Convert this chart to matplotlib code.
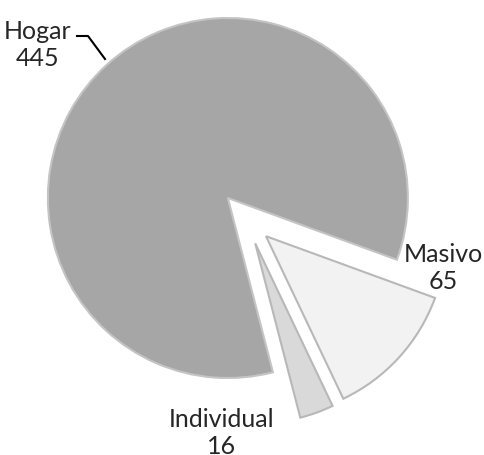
import matplotlib
matplotlib.use('Agg')
import matplotlib.pyplot as plt


etiquetas = ['Hogar', 'Masivo', 'Individual']
valores = [445, 65, 16]
colores = ['#a6a6a6', '#f2f2f2', '#d9d9d9']
bordes = ['#c4c4c4', '#b8b8b8', '#b8b8b8']

W, H = 485, 456
CX, CY, R = 246, 219, 180  # centro y radio en pixeles


def px2fig(px, py):
    return px / W, 1 - py / H


plt.rcParams['font.family'] = ['Lato', 'DejaVu Sans']

fig = plt.figure(figsize=(W / 100, H / 100), dpi=100)
ax = fig.add_axes([0, 0, 1, 1])

wedges, _ = ax.pie(valores, colors=colores, startangle=284.5, counterclock=False,
                   explode=[0.15, 0.15, 0.15], radius=1, normalize=True,
                   wedgeprops=dict(linewidth=1.5))
for w, b in zip(wedges, bordes):
    w.set_edgecolor(b)

# pie() cambia los limites, se ponen despues
ax.set_aspect('auto')
ax.set_xlim(-CX / R, (W - CX) / R)
ax.set_ylim(-(H - CY) / R, CY / R)
ax.axis('off')

# etiquetas
pos = [(38, 45), (443, 268), (222, 433)]
for nombre, v, (px, py) in zip(etiquetas, valores, pos):
    fx, fy = px2fig(px, py)
    fig.text(fx, fy, f'{nombre}\n{v}', ha='center', va='center', fontsize=18,
             color='#262626', linespacing=1.2)

# linea guia de Hogar
lx = [77, 88, 105]
ly = [37, 37, 60]
fig.add_artist(plt.Line2D([x / W for x in lx], [1 - y / H for y in ly],
                          color='black', linewidth=1.5))

fig.savefig('out.png', dpi=100)
